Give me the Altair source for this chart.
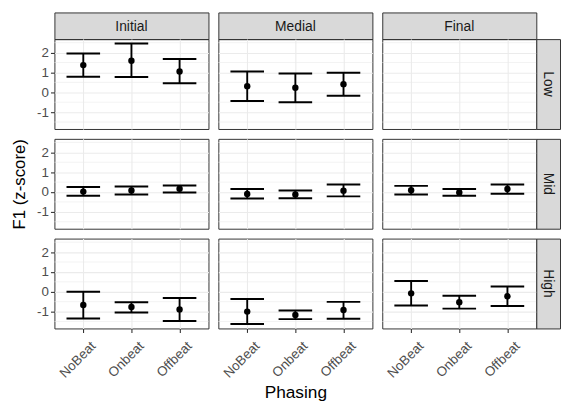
import altair as alt
import pandas as pd

positions = ["Initial", "Medial", "Final"]
registers = ["Low", "Mid", "High"]
phasing = ["NoBeat", "Onbeat", "Offbeat"]
y_breaks = [-1, 0, 1, 2]
y_minor = [-1.5, -0.5, 0.5, 1.5, 2.5]

# values per cell, ordered as phasing
mean_low_initial = [1.37, 1.59, 1.05]
lo_low_initial = [0.78, 0.77, 0.46]
hi_low_initial = [1.95, 2.46, 1.68]

mean_low_medial = [0.31, 0.23, 0.41]
lo_low_medial = [-0.44, -0.50, -0.17]
hi_low_medial = [1.05, 0.95, 0.98]

mean_mid_initial = [0.02, 0.08, 0.17]
lo_mid_initial = [-0.19, -0.12, -0.02]
hi_mid_initial = [0.25, 0.28, 0.33]

mean_mid_medial = [-0.10, -0.12, 0.07]
lo_mid_medial = [-0.33, -0.32, -0.22]
hi_mid_medial = [0.15, 0.08, 0.38]

mean_mid_final = [0.09, -0.02, 0.15]
lo_mid_final = [-0.12, -0.19, -0.09]
hi_mid_final = [0.31, 0.15, 0.38]

mean_high_initial = [-0.67, -0.77, -0.89]
lo_high_initial = [-1.35, -1.05, -1.48]
hi_high_initial = [0.00, -0.53, -0.31]

mean_high_medial = [-1.00, -1.17, -0.92]
lo_high_medial = [-1.63, -1.38, -1.36]
hi_high_medial = [-0.36, -0.94, -0.51]

mean_high_final = [-0.08, -0.53, -0.23]
lo_high_final = [-0.69, -0.85, -0.72]
hi_high_final = [0.54, -0.20, 0.26]

cells = {
    ("Low", "Initial"): (mean_low_initial, lo_low_initial, hi_low_initial),
    ("Low", "Medial"): (mean_low_medial, lo_low_medial, hi_low_medial),
    ("Mid", "Initial"): (mean_mid_initial, lo_mid_initial, hi_mid_initial),
    ("Mid", "Medial"): (mean_mid_medial, lo_mid_medial, hi_mid_medial),
    ("Mid", "Final"): (mean_mid_final, lo_mid_final, hi_mid_final),
    ("High", "Initial"): (mean_high_initial, lo_high_initial, hi_high_initial),
    ("High", "Medial"): (mean_high_medial, lo_high_medial, hi_high_medial),
    ("High", "Final"): (mean_high_final, lo_high_final, hi_high_final),
}

rows = []
for (reg, pos), (m, lo, hi) in cells.items():
    for ph, a, b, c in zip(phasing, m, lo, hi):
        rows.append({"register": reg, "position": pos, "phasing": ph,
                     "mean": a, "lower": b, "upper": c})
df = pd.DataFrame(rows)
minor_df = pd.DataFrame({"v": y_minor})

FONT = "Liberation Sans"
PW, PH = 156, 91
SW, SH = 24, 27
GAP = 10
GRID = "#EBEBEB"
DARK = "#333333"

yscale = alt.Scale(domain=[-1.85, 2.68], nice=False, zero=False)
xscale = alt.Scale(domain=phasing, type="point", padding=0.6)


def panel(reg, pos):
    left = pos == positions[0]
    bottom = reg == registers[-1]
    ykw = dict(values=y_breaks, grid=True, gridColor=GRID, gridWidth=1.1,
               domain=False, labels=left, ticks=left, tickColor=DARK,
               tickSize=4, tickWidth=1.1, labelColor="#4D4D4D",
               labelFontSize=13.5, labelPadding=2,
               labelExpr="toString(datum.value)",
               labelOverlap=False, labelFlush=False, title=None)
    if left and reg == "Mid":
        ykw.update(title="F1 (z-score)", titleFontSize=17, titleFontWeight="normal",
                   titleColor="black", titlePadding=8)
    yaxis = alt.Axis(**ykw)
    xkw = dict(grid=True, gridColor=GRID, gridWidth=1.1, domain=False,
               labels=bottom, ticks=bottom, tickColor=DARK, tickSize=4,
               tickWidth=1.1, labelColor="#4D4D4D", labelFontSize=13.5,
               labelAngle=-45, labelAlign="right", labelBaseline="top",
               labelPadding=6.5, labelOffset=5, labelOverlap=False, title=None)
    if bottom and pos == "Medial":
        xkw.update(title="Phasing", titleFontSize=17.5, titleFontWeight="normal",
                   titleColor="black", titlePadding=4)
    xaxis = alt.Axis(**xkw)

    grid = alt.Chart(minor_df).mark_rule(color=GRID, strokeWidth=0.6).encode(
        y=alt.Y("v:Q", scale=yscale, axis=yaxis))
    base = alt.Chart(df).transform_filter(
        f"datum.register == '{reg}' && datum.position == '{pos}'")
    x = alt.X("phasing:N", scale=xscale, axis=xaxis, sort=phasing)
    bar = base.mark_rule(color="black", strokeWidth=1.9).encode(
        x=x, y=alt.Y("lower:Q", scale=yscale, axis=yaxis), y2="upper:Q")
    cap_lo = base.mark_tick(color="black", thickness=2, size=34, opacity=1).encode(
        x=x, y=alt.Y("lower:Q", scale=yscale, axis=yaxis))
    cap_hi = base.mark_tick(color="black", thickness=2, size=34, opacity=1).encode(
        x=x, y=alt.Y("upper:Q", scale=yscale, axis=yaxis))
    pt = base.mark_circle(color="black", size=42, opacity=1).encode(
        x=x, y=alt.Y("mean:Q", scale=yscale, axis=yaxis))
    return alt.layer(grid, bar, cap_lo, cap_hi, pt).properties(width=PW, height=PH)


def strip_top(label):
    return alt.Chart(pd.DataFrame({"label": [label]})).mark_text(
        font=FONT, fontSize=14, color="#1A1A1A").encode(
        text="label:N", x=alt.value(PW / 2), y=alt.value(SH / 2 + 1)).properties(
        width=PW, height=SH,
        view=alt.ViewBackground(fill="#D9D9D9", stroke=DARK, strokeWidth=1))


def strip_right(label):
    return alt.Chart(pd.DataFrame({"label": [label]})).mark_text(
        font=FONT, fontSize=14, color="#1A1A1A", angle=90).encode(
        text="label:N", x=alt.value(SW / 2), y=alt.value(PH / 2)).properties(
        width=SW, height=PH,
        view=alt.ViewBackground(fill="#D9D9D9", stroke=DARK, strokeWidth=1))


def spacer(w, h):
    return alt.Chart(pd.DataFrame({"a": [0]})).mark_point(opacity=0, size=1).encode(
        x=alt.value(w / 2), y=alt.value(h / 2)).properties(
        width=w, height=h, view=alt.ViewBackground(strokeOpacity=0))


grid_cells = []
grid_cells += [strip_top(positions[0]), spacer(GAP, SH), strip_top(positions[1]),
               spacer(GAP, SH), strip_top(positions[2]), spacer(SW, SH)]
for i, reg in enumerate(registers):
    if i > 0:
        grid_cells += [spacer(PW, GAP), spacer(GAP, GAP), spacer(PW, GAP),
                       spacer(GAP, GAP), spacer(PW, GAP), spacer(SW, GAP)]
    row = []
    for j, pos in enumerate(positions):
        if j > 0:
            row.append(spacer(GAP, PH))
        row.append(panel(reg, pos))
    row.append(strip_right(reg))
    grid_cells += row

chart = alt.concat(*grid_cells, columns=6, spacing=0).properties(
    bounds="flush", align="each",
    padding={"left": 2, "top": 1, "right": 0, "bottom": 0},
).configure(font=FONT).configure_view(stroke=DARK, strokeWidth=1)

chart.save("out.html", embed_options={"renderer": "svg", "actions": False})
